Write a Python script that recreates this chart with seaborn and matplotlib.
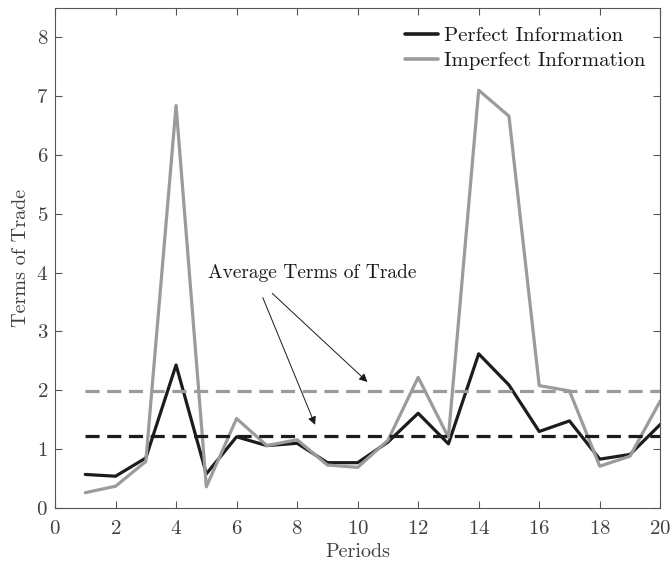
import numpy as np
import pandas as pd
import matplotlib
matplotlib.use('Agg')
import matplotlib.pyplot as plt
import seaborn as sns

# Data
periods = list(range(1, 21))
perfect = [0.57, 0.54, 0.85, 2.43, 0.58, 1.21, 1.06, 1.10, 0.77, 0.77,
           1.12, 1.61, 1.09, 2.62, 2.09, 1.30, 1.48, 0.83, 0.91, 1.42]
imperfect = [0.26, 0.37, 0.79, 6.84, 0.36, 1.52, 1.06, 1.16, 0.73, 0.69,
             1.15, 2.22, 1.20, 7.10, 6.66, 2.08, 1.99, 0.71, 0.88, 1.82]
avg_perfect = 1.23
avg_imperfect = 1.98
series_names = ['Perfect Information', 'Imperfect Information']
series_colors = ['#1c1c1c', '#9b9b9b']

df = pd.DataFrame({
    'Periods': periods * 2,
    'Terms of Trade': perfect + imperfect,
    'serie': [series_names[0]] * 20 + [series_names[1]] * 20,
})

sns.set_style('ticks')
plt.rcParams['font.family'] = ['cmr10', 'DejaVu Serif']
plt.rcParams['axes.formatter.use_mathtext'] = True
plt.rcParams['mathtext.fontset'] = 'cm'

fig = plt.figure(figsize=(6.71, 5.61), dpi=100)
ax = fig.add_axes([0.082, 0.0945, 0.902, 0.8915])

sns.lineplot(data=df, x='Periods', y='Terms of Trade', hue='serie',
             palette=dict(zip(series_names, series_colors)), linewidth=2.3, ax=ax)

# linhas de media tracejadas
ax.plot([1, 20], [avg_imperfect, avg_imperfect], color=series_colors[1], lw=2.3, ls=(0, (4.4, 2.4)))
ax.plot([1, 20], [avg_perfect, avg_perfect], color=series_colors[0], lw=2.3, ls=(0, (4.4, 2.4)))

ax.text(5.05, 4.0, 'Average Terms of Trade', fontsize=14, color='#1a1a1a', va='center')
ax.annotate('', xy=(8.63, 1.37), xytext=(6.83, 3.62),
            arrowprops=dict(arrowstyle='-|>', color='#1a1a1a', lw=0.7, mutation_scale=12))
ax.annotate('', xy=(10.39, 2.11), xytext=(7.11, 3.68),
            arrowprops=dict(arrowstyle='-|>', color='#1a1a1a', lw=0.7, mutation_scale=12))

ax.set_xlim(0, 20)
ax.set_ylim(0, 8.5)
ax.set_xticks(range(0, 21, 2))
ax.set_yticks(range(0, 9))
ax.set_xlabel('Periods', fontsize=14.5, color='#404040', labelpad=3)
ax.set_ylabel('Terms of Trade', fontsize=14.5, color='#404040', labelpad=4)
ax.tick_params(direction='in', top=True, right=True, length=5, width=0.8,
               labelsize=15, colors='#555555', labelcolor='#404040', pad=5)
ax.tick_params(axis='x', pad=9)
for s in ax.spines.values():
    s.set_color('#555555')
    s.set_linewidth(0.8)

leg = ax.legend(loc='upper right', bbox_to_anchor=(1.0, 0.9915), frameon=False,
                fontsize=15, handlelength=1.6, handletextpad=0.3,
                labelspacing=0.3, borderaxespad=0.3)
for t in leg.get_texts():
    t.set_color('#1a1a1a')
for h in leg.get_lines():
    h.set_linewidth(2.6)

plt.savefig('out.png', dpi=100)
